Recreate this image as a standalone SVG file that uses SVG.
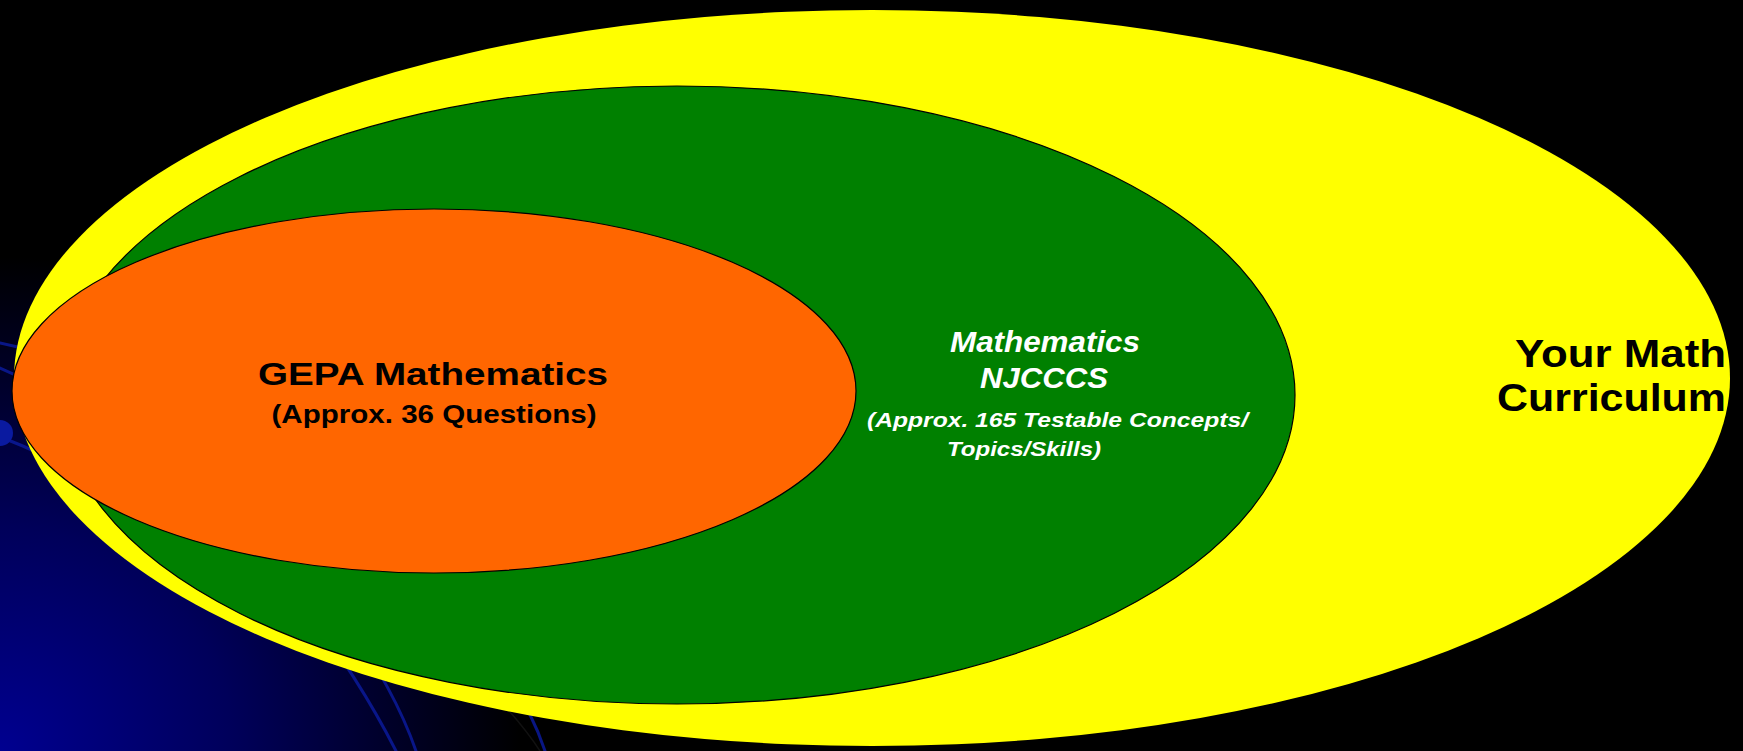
<svg xmlns="http://www.w3.org/2000/svg" width="1743" height="751" viewBox="0 0 1743 751">
  <defs>
    <radialGradient id="bgGlow" cx="0" cy="751" r="520" gradientUnits="userSpaceOnUse" gradientTransform="translate(0 751) scale(1 0.95) translate(0 -751)">
      <stop offset="0" stop-color="#000090"/>
      <stop offset="0.45" stop-color="#00005a"/>
      <stop offset="1" stop-color="#000000"/>
    </radialGradient>
    <style>
      .deco { fill: none; stroke: #0a1a9a; stroke-width: 3; stroke-linecap: round; opacity: 0.85; }
      .ring { stroke: #000000; stroke-width: 1.2; }
      .dark { font-family: "Liberation Sans", Arial, sans-serif; font-weight: bold; fill: #000000; }
      .light { font-family: "Liberation Sans", Arial, sans-serif; font-weight: bold; font-style: italic; fill: #ffffff; }
    </style>
  </defs>

  <g id="background">
    <rect x="0" y="0" width="1743" height="751" fill="#000000"/>
    <rect x="0" y="0" width="1743" height="751" fill="url(#bgGlow)"/>
    <path class="deco" d="M 0 343 Q 60 355 120 380"/>
    <path class="deco" d="M 0 368 Q 50 390 110 420"/>
    <path class="deco" d="M 8 440 Q 60 460 120 500"/>
    <circle cx="0" cy="433" r="13" fill="#0a1aa0"/>
    <path class="deco" d="M 300 600 Q 360 680 396 751"/>
    <path class="deco" d="M 345 620 Q 395 690 416 751"/>
    <path class="deco" d="M 495 660 Q 530 705 545 751"/>
    <path d="M 480 680 Q 520 720 540 751" fill="none" stroke="#111111" stroke-width="1.5"/>
  </g>

  <g id="node-curriculum">
    <ellipse cx="872" cy="378" rx="858" ry="368" fill="#FFFF00"/>
    <text class="dark" x="1726" y="367" font-size="39" text-anchor="end" textLength="211" lengthAdjust="spacingAndGlyphs">Your Math</text>
    <text class="dark" x="1726" y="411" font-size="39" text-anchor="end" textLength="229" lengthAdjust="spacingAndGlyphs">Curriculum</text>
  </g>

  <g id="node-njcccs">
    <ellipse class="ring" cx="677" cy="395" rx="618" ry="309" fill="#008000"/>
    <text class="light" x="1045" y="352" font-size="29" text-anchor="middle" textLength="190" lengthAdjust="spacingAndGlyphs">Mathematics</text>
    <text class="light" x="1044" y="388" font-size="29" text-anchor="middle" textLength="128" lengthAdjust="spacingAndGlyphs">NJCCCS</text>
    <text class="light" x="867" y="427" font-size="21" textLength="381" lengthAdjust="spacingAndGlyphs">(Approx. 165 Testable Concepts/</text>
    <text class="light" x="947" y="456" font-size="21" textLength="154" lengthAdjust="spacingAndGlyphs">Topics/Skills)</text>
  </g>

  <g id="node-gepa">
    <ellipse class="ring" cx="434" cy="391" rx="422" ry="182" fill="#FF6600"/>
    <text class="dark" x="433" y="385" font-size="32" text-anchor="middle" textLength="350" lengthAdjust="spacingAndGlyphs">GEPA Mathematics</text>
    <text class="dark" x="434" y="423" font-size="26" text-anchor="middle" textLength="325" lengthAdjust="spacingAndGlyphs">(Approx. 36 Questions)</text>
  </g>

  <g id="connectors"/>
</svg>
